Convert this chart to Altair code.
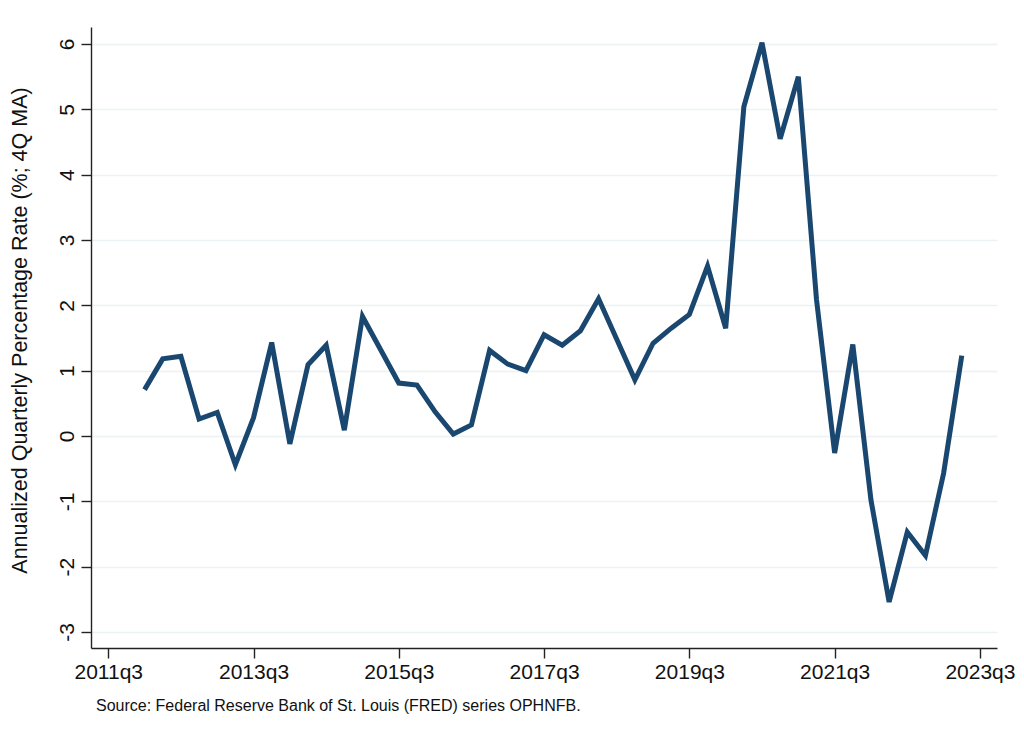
import altair as alt
import pandas as pd

quarters = [
    "2012q1", "2012q2", "2012q3", "2012q4",
    "2013q1", "2013q2", "2013q3", "2013q4",
    "2014q1", "2014q2", "2014q3", "2014q4",
    "2015q1", "2015q2", "2015q3", "2015q4",
    "2016q1", "2016q2", "2016q3", "2016q4",
    "2017q1", "2017q2", "2017q3", "2017q4",
    "2018q1", "2018q2", "2018q3", "2018q4",
    "2019q1", "2019q2", "2019q3", "2019q4",
    "2020q1", "2020q2", "2020q3", "2020q4",
    "2021q1", "2021q2", "2021q3", "2021q4",
    "2022q1", "2022q2", "2022q3", "2022q4",
    "2023q1", "2023q2",
]
values = [
    0.71, 1.18, 1.22, 0.26,
    0.36, -0.44, 0.28, 1.43,
    -0.12, 1.09, 1.39, 0.09,
    1.83, 1.32, 0.81, 0.78,
    0.37, 0.03, 0.17, 1.31,
    1.10, 1.00, 1.55, 1.39,
    1.61, 2.10, 1.48, 0.86,
    1.42, 1.65, 1.86, 2.60,
    1.65, 5.04, 6.02, 4.55,
    5.50, 2.09, -0.26, 1.40,
    -0.98, -2.54, -1.47, -1.83,
    -0.57, 1.23,
]
x_ticks = [0, 8, 16, 24, 32, 40, 48]  # 2011q3 ... 2023q3
y_ticks = [-3, -2, -1, 0, 1, 2, 3, 4, 5, 6]
y_title = "Annualized Quarterly Percentage Rate (%; 4Q MA)"
source_note = "Source: Federal Reserve Bank of St. Louis (FRED) series OPHNFB."


def q_index(s):
    y, q = s.split("q")
    return (int(y) - 2011) * 4 + (int(q) - 3)


df = pd.DataFrame({"quarter": quarters, "value": values})
df["t"] = [q_index(s) for s in quarters]

FONT = "Liberation Sans"
W, H = 906, 621

line = alt.Chart(df).mark_line(color="#1a476f", strokeWidth=5, clip=False).encode(
    x=alt.X(
        "t:Q",
        scale=alt.Scale(domain=[-0.95, 48.94], nice=False, zero=False),
        axis=alt.Axis(
            values=x_ticks,
            labelExpr="toString(2011 + datum.value / 4) + 'q3'",
            title=None,
            grid=False,
            domainColor="#222222",
            domainWidth=1.4,
            tickColor="#222222",
            tickWidth=1.4,
            tickSize=10,
            labelFont=FONT,
            labelFontSize=21,
            labelColor="#111111",
            labelPadding=3,
            labelFlush=False,
        ),
    ),
    y=alt.Y(
        "value:Q",
        scale=alt.Scale(domain=[-3.245, 6.26], nice=False, zero=False),
        axis=alt.Axis(
            values=y_ticks,
            labelExpr="toString(datum.value)",
            title=y_title,
            titleFont=FONT,
            titleFontSize=21.5,
            titleFontWeight="normal",
            titleColor="#111111",
            titleAngle=270,
            titleX=-71,
            titleY=303,
            titleAlign="center",
            titleBaseline="middle",
            grid=True,
            gridColor="#eaf2f3",
            gridWidth=1.6,
            domainColor="#222222",
            domainWidth=1.4,
            tickColor="#222222",
            tickWidth=1.4,
            tickSize=10,
            labelFont=FONT,
            labelFontSize=21,
            labelColor="#111111",
            labelAngle=270,
            labelAlign="center",
            labelBaseline="bottom",
            labelPadding=4,
            labelFlush=False,
        ),
    ),
)

note = alt.Chart(pd.DataFrame({"txt": [source_note]})).mark_text(
    font=FONT, fontSize=16, color="#111111", align="left", baseline="alphabetic"
).encode(
    x=alt.value(5),
    y=alt.value(684),
    text="txt:N",
)

chart = (
    alt.layer(line, note)
    .properties(
        width=W,
        height=H,
        autosize=alt.AutoSizeParams(type="none"),
        padding={"left": 83, "top": 19, "right": 19, "bottom": 70},
        background="white",
    )
    .configure_view(stroke=None)
)

chart.save("out.html", embed_options={"renderer": "svg", "actions": False})
